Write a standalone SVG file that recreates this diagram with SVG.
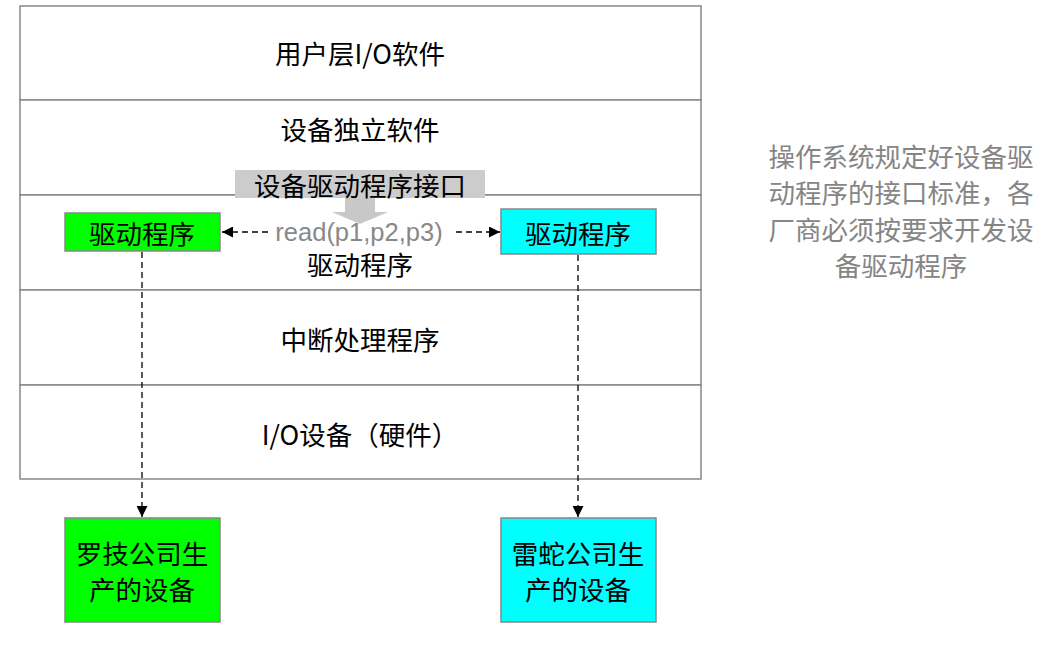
<svg xmlns="http://www.w3.org/2000/svg" width="1057" height="647" viewBox="0 0 1057 647">
<defs>
<style>
.t{font-family:"Noto Sans CJK SC","Liberation Sans",sans-serif;font-size:26.5px;fill:#000;text-anchor:middle;dominant-baseline:central}
.g{fill:#888}
.note{fill:#858585;font-size:26.5px}
.row{fill:#fff;stroke:#888;stroke-width:1.5}
.box{stroke:#888;stroke-width:1.5}
.dash{stroke:#000;stroke-width:1.3;stroke-dasharray:6 4;fill:none}
</style>
<marker id="ah" viewBox="0 0 10 10" refX="10" refY="5" markerWidth="11" markerHeight="11" markerUnits="userSpaceOnUse" orient="auto-start-reverse">
<path d="M0,0 L10,5 L0,10 z" fill="#000"/>
</marker>
</defs>
<rect width="1057" height="647" fill="#fff"/>
<g id="layers">
<rect class="row" x="20" y="6" width="681" height="94"/>
<rect class="row" x="20" y="100" width="681" height="95"/>
<rect class="row" x="20" y="195" width="681" height="95"/>
<rect class="row" x="20" y="290" width="681" height="95"/>
<rect class="row" x="20" y="385" width="681" height="94"/>
<text class="t" x="360" y="52">用户层I/O软件</text>
<text class="t" x="360" y="128">设备独立软件</text>
<text class="t" x="360" y="263">驱动程序</text>
<text class="t" x="360" y="338">中断处理程序</text>
<text class="t" x="360" y="433">I/O设备（硬件）</text>
</g>
<g id="interface">
<rect x="235" y="170" width="250" height="28" fill="#cccccc"/>
<polygon points="345,198 375,198 375,212 388,212 360,224 332,212 345,212" fill="#c8c8c8"/>
<text class="t" x="360" y="184">设备驱动程序接口</text>
</g>
<g id="driver-left">
<rect class="box" x="65" y="213" width="155" height="38" fill="#00ff00"/>
<text class="t" x="142" y="232">驱动程序</text>
</g>
<g id="driver-right">
<rect class="box" x="501" y="209" width="155" height="45" fill="#00ffff"/>
<text class="t" x="578" y="232">驱动程序</text>
</g>
<g id="device-left">
<rect class="box" x="65" y="518" width="155" height="104" fill="#00ff00"/>
<text class="t" x="142" y="552">罗技公司生</text>
<text class="t" x="142" y="588">产的设备</text>
</g>
<g id="device-right">
<rect class="box" x="501" y="518" width="155" height="104" fill="#00ffff"/>
<text class="t" x="578" y="552">雷蛇公司生</text>
<text class="t" x="578" y="588">产的设备</text>
</g>
<g id="connectors">
<line class="dash" x1="268" y1="232" x2="222" y2="232" marker-end="url(#ah)"/>
<line class="dash" x1="456" y1="232" x2="500" y2="232" marker-end="url(#ah)"/>
<text class="t g" x="359" y="232" style="font-family:'Liberation Sans','Noto Sans',sans-serif;font-size:25.5px">read(p1,p2,p3)</text>
<line class="dash" x1="142" y1="252" x2="142" y2="517" marker-end="url(#ah)"/>
<line class="dash" x1="578" y1="255" x2="578" y2="517" marker-end="url(#ah)"/>
</g>
<g id="note">
<text class="t note" x="901" y="155">操作系统规定好设备驱</text>
<text class="t note" x="901" y="191">动程序的接口标准，各</text>
<text class="t note" x="901" y="228">厂商必须按要求开发设</text>
<text class="t note" x="901" y="264">备驱动程序</text>
</g>
</svg>
